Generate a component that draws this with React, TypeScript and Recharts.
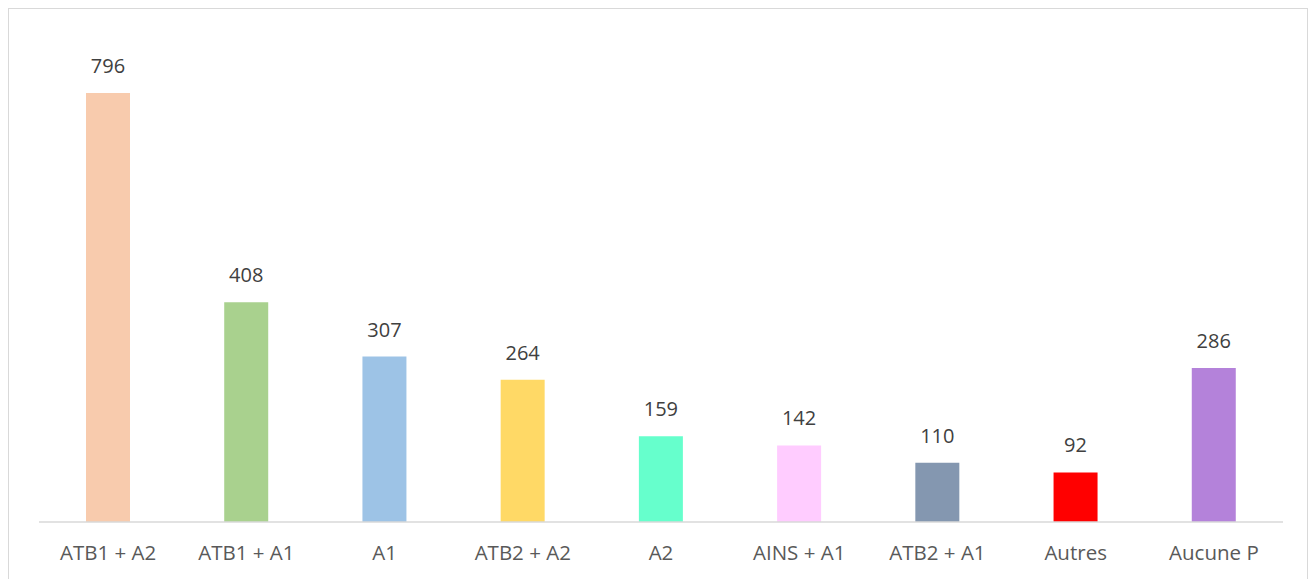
import React from 'react';
import { BarChart, Bar, XAxis, YAxis, Cell, LabelList } from 'recharts';

const categories = [
  'ATB1 + A2', 'ATB1 + A1', 'A1', 'ATB2 + A2', 'A2',
  'AINS + A1', 'ATB2 + A1', 'Autres', 'Aucune P',
];
const counts = [796, 408, 307, 264, 159, 142, 110, 92, 286];
const colors = [
  '#F8CBAD', '#A9D18E', '#9DC3E6', '#FFD966', '#66FFCC',
  '#FFCCFF', '#8497B0', '#FF0000', '#B482DA',
];

const data = categories.map((name, i) => ({ name, value: counts[i] }));

const FONT = '"Open Sans", sans-serif';

export default function App() {
  return (
    <div
      style={{
        width: 1298,
        height: 580,
        border: '1px solid #d9d9d9',
        background: '#fff',
        fontFamily: FONT,
      }}
    >
      <BarChart
        width={1298}
        height={570}
        data={data}
        margin={{ top: 28, right: 24, bottom: 7, left: 30 }}
        barCategoryGap="34%"
      >
        <XAxis
          dataKey="name"
          axisLine={{ stroke: '#d9d9d9', strokeWidth: 1.5 }}
          tickLine={false}
          tickMargin={17}
          height={50}
          interval={0}
          tick={{ fill: '#595959', fontSize: 20.5, fontFamily: FONT }}
        />
        <YAxis hide domain={[0, 900]} />
        <Bar dataKey="value" isAnimationActive={false}>
          {data.map((_d, i) => (
            <Cell key={i} fill={colors[i]} />
          ))}
          <LabelList
            dataKey="value"
            position="top"
            offset={20}
            fill="#404040"
            fontSize={20}
            fontFamily={FONT}
          />
        </Bar>
      </BarChart>
    </div>
  );
}
